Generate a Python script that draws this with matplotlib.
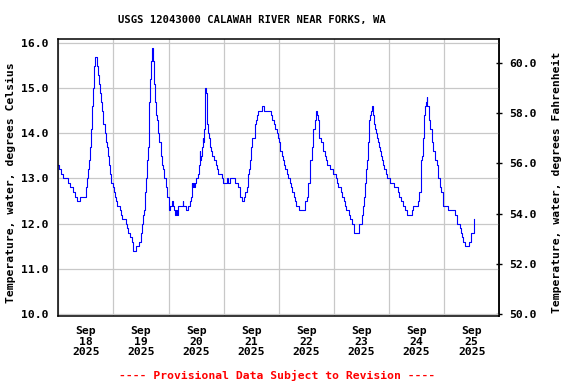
import pandas as pd
import matplotlib
matplotlib.use("Agg")
import matplotlib.pyplot as plt
import matplotlib.dates as mdates

# readings: hours since 2025-09-18 00:00 and water temperature (deg C)
hours = [
    0.0, 0.5, 1.0, 2.2, 4.4, 5.2, 6.5, 7.4, 8.1, 9.5, 12.0, 12.2, 12.7, 13.1, 13.5, 13.9,
    14.3, 14.7, 15.1, 15.5, 15.9, 16.4, 16.8, 17.3, 17.7, 18.1, 18.6, 19.0, 19.4, 19.9,
    20.3, 20.7, 21.2, 21.6, 22.0, 22.5, 22.9, 23.7, 24.2, 24.6, 25.1, 25.6, 26.7, 27.1,
    27.6, 29.3, 29.8, 30.3, 31.0, 32.1, 32.6, 34.0, 35.2, 35.8, 36.3, 36.9, 37.4, 37.8,
    38.3, 38.7, 39.1, 39.5, 39.9, 40.4, 40.7, 41.0, 41.3, 41.7, 42.2, 42.6, 43.0, 43.5,
    43.9, 44.5, 44.9, 45.3, 45.8, 46.1, 46.7, 47.3, 48.0, 48.3, 48.8, 49.5, 49.9, 50.5,
    50.9, 51.3, 51.8, 52.2, 54.1, 54.5, 55.7, 56.3, 57.2, 57.6, 58.0, 58.3, 58.6, 58.9,
    59.3, 59.8, 60.7, 61.1, 61.5, 61.8, 62.1, 62.5, 62.8, 63.1, 63.4, 63.7, 64.0, 64.3,
    64.6, 64.9, 65.2, 65.6, 66.0, 66.5, 67.1, 67.9, 68.5, 69.2, 69.7, 71.1, 71.7, 73.6,
    74.0, 74.6, 76.8, 78.3, 78.9, 79.3, 79.9, 80.9, 81.5, 82.1, 82.5, 82.9, 83.3, 83.9,
    84.5, 85.5, 85.9, 86.5, 87.1, 88.6, 89.6, 92.7, 93.2, 93.8, 94.4, 95.1, 95.7, 96.0,
    96.6, 97.2, 97.7, 98.3, 98.9, 99.5, 100.1, 100.7, 101.2, 101.8, 102.4, 103.0, 103.6,
    104.7, 107.2, 107.6, 108.1, 108.5, 108.9, 109.4, 109.8, 110.3, 110.7, 111.1, 111.6,
    112.0, 112.5, 112.9, 113.3, 113.7, 114.2, 115.1, 115.9, 116.4, 117.2, 118.3, 119.7,
    120.7, 121.3, 121.9, 123.1, 123.6, 124.2, 124.8, 125.4, 126.5, 127.1, 127.7, 128.9,
    131.1, 132.1, 132.5, 133.0, 133.4, 133.8, 134.3, 134.7, 135.1, 135.6, 136.0, 136.4,
    136.9, 137.3, 137.7, 138.2, 138.6, 139.1, 139.5, 140.1, 140.5, 141.0, 141.4, 142.0,
    142.5, 143.1, 144.3, 146.1, 147.9, 148.5, 149.0, 150.2, 150.8, 152.0, 154.1, 154.5,
    156.5, 157.2, 157.7, 158.1, 158.5, 158.8, 159.3, 159.6, 160.0, 160.5, 160.7, 161.2,
    161.6, 162.0, 162.5, 163.3, 163.8, 164.2, 164.7, 165.1, 165.5, 166.0, 166.8, 167.3,
    167.7, 169.6, 172.7, 173.8, 174.7, 175.2, 175.6, 176.0, 176.9, 178.8, 179.6, 180.8,
    181.2,
]
temp_c = [
    13.3, 13.2, 13.1, 13.0, 12.9, 12.8, 12.7, 12.6, 12.5, 12.6, 12.7, 12.8, 13.0, 13.2, 13.4, 13.7,
    14.1, 14.6, 15.0, 15.5, 15.7, 15.7, 15.5, 15.3, 15.1, 14.9, 14.7, 14.5, 14.2, 14.2,
    14.0, 13.8, 13.7, 13.5, 13.3, 13.1, 12.9, 12.8, 12.7, 12.6, 12.5, 12.4, 12.3, 12.2,
    12.1, 12.0, 11.9, 11.8, 11.7, 11.6, 11.4, 11.5, 11.6, 11.8, 12.0, 12.2, 12.3, 12.7,
    13.0, 13.4, 13.7, 14.7, 15.2, 15.6, 15.8, 15.9, 15.6, 15.1, 14.7, 14.4, 14.3, 14.0,
    13.8, 13.7, 13.5, 13.3, 13.2, 13.0, 12.8, 12.6, 12.4, 12.3, 12.4, 12.5, 12.4, 12.3,
    12.2, 12.3, 12.2, 12.4, 12.5, 12.4, 12.3, 12.4, 12.5, 12.6, 12.9, 12.8, 12.9, 12.8,
    12.9, 13.0, 13.1, 13.3, 13.6, 13.4, 13.5, 13.7, 13.9, 13.8, 14.1, 14.4, 15.0, 14.9,
    14.7, 14.2, 14.0, 13.9, 13.7, 13.6, 13.5, 13.4, 13.3, 13.2, 13.1, 13.0, 12.9, 13.0,
    12.9, 13.0, 12.9, 12.8, 12.7, 12.6, 12.5, 12.6, 12.7, 12.8, 13.1, 13.2, 13.4, 13.7,
    13.9, 14.2, 14.3, 14.4, 14.5, 14.6, 14.5, 14.4, 14.3, 14.2, 14.1, 14.0, 13.9, 13.8,
    13.6, 13.5, 13.4, 13.3, 13.2, 13.1, 13.0, 12.9, 12.8, 12.7, 12.6, 12.5, 12.4,
    12.3, 12.4, 12.5, 12.6, 12.7, 12.9, 13.2, 13.4, 13.7, 13.9, 14.1, 14.3,
    14.5, 14.4, 14.3, 14.0, 13.9, 13.8, 13.6, 13.5, 13.4, 13.3, 13.2, 13.1,
    13.0, 12.9, 12.8, 12.7, 12.6, 12.5, 12.4, 12.3, 12.2, 12.1, 12.0, 11.8,
    12.0, 12.2, 12.4, 12.6, 12.9, 13.2, 13.4, 13.8, 14.3, 14.4, 14.5, 14.6,
    14.4, 14.2, 14.1, 14.0, 13.9, 13.8, 13.7, 13.6, 13.5, 13.4, 13.3, 13.2,
    13.1, 13.0, 12.9, 12.8, 12.7, 12.6, 12.5, 12.4, 12.3, 12.2, 12.3, 12.4,
    12.5, 12.7, 13.1, 13.4, 13.5, 13.9, 14.4, 14.6, 14.7, 14.8, 14.6, 14.5,
    14.3, 14.1, 13.8, 13.6, 13.5, 13.4, 13.3, 13.1, 13.0, 12.8, 12.7, 12.5,
    12.4, 12.3, 12.2, 12.0, 11.9, 11.8, 11.7, 11.6, 11.5, 11.6, 11.8, 12.0,
    12.1,
]
start = "2025-09-18 00:00"
end = "2025-09-26 00:00"
title = "USGS 12043000 CALAWAH RIVER NEAR FORKS, WA"
ylabel_c = "Temperature, water, degrees Celsius"
ylabel_f = "Temperature, water, degrees Fahrenheit"
note = "---- Provisional Data Subject to Revision ----"

mono = "DejaVu Sans Mono"
fs = 8.2

times = pd.Timestamp(start) + pd.to_timedelta(hours, unit="h")

fig = plt.figure(figsize=(5.76, 3.84), dpi=100)
ax = fig.add_axes([58.3 / 576, 1 - 316 / 384, 441 / 576, (316 - 39.3) / 384])

ax.plot(times, temp_c, color="#0000ff", linewidth=0.8, drawstyle="steps-post")

ax.set_xlim(pd.Timestamp(start), pd.Timestamp(end))
ax.set_ylim(9.947, 16.09)

# labels at noon, grid at midnight
ax.xaxis.set_major_locator(mdates.HourLocator(byhour=[12]))
ax.xaxis.set_minor_locator(mdates.HourLocator(byhour=[0]))
ax.xaxis.set_major_formatter(mdates.DateFormatter("%b\n%d\n%Y"))
ax.set_yticks([10, 11, 12, 13, 14, 15, 16])
ax.yaxis.set_major_formatter(plt.FormatStrFormatter("%.1f"))

ax.grid(True, which="minor", axis="x", color="#c8c8c8", linewidth=0.9)
ax.grid(True, which="major", axis="y", color="#c8c8c8", linewidth=0.9)
ax.set_axisbelow(True)
ax.tick_params(axis="x", which="both", length=0, pad=7)
ax.tick_params(axis="y", length=0, pad=7)
for lab in ax.get_xticklabels():
    lab.set_fontfamily(mono)
    lab.set_fontweight("bold")
    lab.set_fontsize(fs)
    lab.set_linespacing(1.1)
for lab in ax.get_yticklabels():
    lab.set_fontfamily(mono)
    lab.set_fontweight("bold")
    lab.set_fontsize(fs)
for sp in ax.spines.values():
    sp.set_linewidth(1.1)

sec = ax.secondary_yaxis("right", functions=(lambda c: c * 9 / 5 + 32, lambda f: (f - 32) * 5 / 9))
sec.set_yticks([50, 52, 54, 56, 58, 60])
sec.yaxis.set_major_formatter(plt.FormatStrFormatter("%.1f"))
sec.tick_params(direction="inout", length=4, width=1, pad=5)
sec.spines["right"].set_linewidth(1.1)
for lab in sec.get_yticklabels():
    lab.set_fontfamily(mono)
    lab.set_fontweight("bold")
    lab.set_fontsize(fs)

fig.text(252 / 576, 1 - 20 / 384, title, ha="center", va="center",
         fontfamily=mono, fontweight="bold", fontsize=7.6)
fig.text(11 / 576, 1 - 182.5 / 384, ylabel_c, rotation=90, ha="center", va="center",
         fontfamily=mono, fontweight="bold", fontsize=fs)
fig.text(556.7 / 576, 1 - 182.5 / 384, ylabel_f, rotation=90, ha="center", va="center",
         fontfamily=mono, fontweight="bold", fontsize=fs)
fig.text(277.5 / 576, 1 - 375 / 384, note, ha="center", va="center", color="red",
         fontfamily=mono, fontweight="bold", fontsize=fs)

fig.savefig("out.png", dpi=100)
